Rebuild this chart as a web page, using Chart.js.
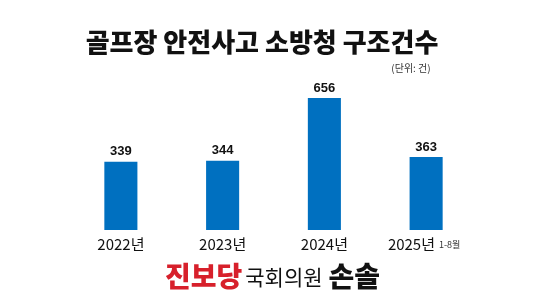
<!DOCTYPE html>
<html>
<head>
<meta charset="utf-8">
<script src="https://cdn.jsdelivr.net/npm/chart.js@4"></script>
<style>
  html, body { margin: 0; padding: 0; background: #fff; }
  #wrap { width: 547px; height: 308px; }
</style>
</head>
<body>
<div id="wrap"><canvas id="myChart" width="547" height="308"></canvas></div>
<script>
const years = ['2022년', '2023년', '2024년', '2025년'];
const rescues = [339, 344, 656, 363];
const yearNotes = ['', '', '', '1-8월'];
const titleText = '골프장 안전사고 소방청 구조건수';
const unitText = '(단위: 건)';

const barColor = '#0070c0';
const kr = '"Noto Sans CJK KR", "Noto Sans", sans-serif';

const textPlugin = {
  id: 'texts',
  afterDraw(chart) {
    const c = chart.ctx;
    const x = chart.scales.x;
    c.save();
    c.textBaseline = 'middle';

    // title
    c.fillStyle = '#111';
    c.textAlign = 'center';
    c.font = '900 26px ' + kr;
    c.fillText(titleText, 262, 42);

    c.font = '400 10px ' + kr;
    c.fillStyle = '#333';
    c.fillText(unitText, 411, 68);

    // value labels
    const meta = chart.getDatasetMeta(0);
    c.font = 'bold 13px "Liberation Sans", Arial, sans-serif';
    c.fillStyle = '#111';
    meta.data.forEach((bar, i) => {
      c.fillText(String(rescues[i]), bar.x, bar.y - 10);
    });

    // category labels
    years.forEach((yr, i) => {
      const px = x.getPixelForValue(i);
      c.font = '400 15px ' + kr;
      const w = c.measureText(yr).width;
      let cx = px;
      if (yearNotes[i]) {
        c.font = '400 9px ' + kr;
        const nw = c.measureText(yearNotes[i]).width;
        cx = px - (nw + 4) / 2 - 2;
        c.fillStyle = '#333';
        c.textAlign = 'left';
        c.fillText(yearNotes[i], cx + w / 2 + 4, 245);
      }
      c.font = '400 15px ' + kr;
      c.fillStyle = '#111';
      c.textAlign = 'center';
      c.fillText(yr, cx, 244);
    });

    // footer
    c.textAlign = 'left';
    let fx = 165;
    c.font = '900 28px ' + kr;
    c.fillStyle = '#d7202b';
    c.fillText('진보당', fx, 276);
    fx += c.measureText('진보당').width + 3;
    c.font = '400 21px ' + kr;
    c.fillStyle = '#111';
    c.fillText('국회의원', fx, 277);
    fx += c.measureText('국회의원').width + 6;
    c.font = '900 28px ' + kr;
    c.fillText('손솔', fx, 276);
    c.restore();
  }
};

const ctx = document.getElementById('myChart');
const myChart = new Chart(ctx, {
  type: 'bar',
  data: {
    labels: years,
    datasets: [{
      data: rescues,
      backgroundColor: barColor,
      categoryPercentage: 1,
      barPercentage: 0.325
    }]
  },
  options: {
    responsive: false,
    animation: false,
    layout: { padding: { left: 70, right: 70, top: 69, bottom: 78 } },
    scales: {
      x: { display: false },
      y: { display: false, min: 0, max: 800 }
    },
    plugins: {
      legend: { display: false },
      tooltip: { enabled: false }
    }
  },
  plugins: [textPlugin]
});
</script>
</body>
</html>
